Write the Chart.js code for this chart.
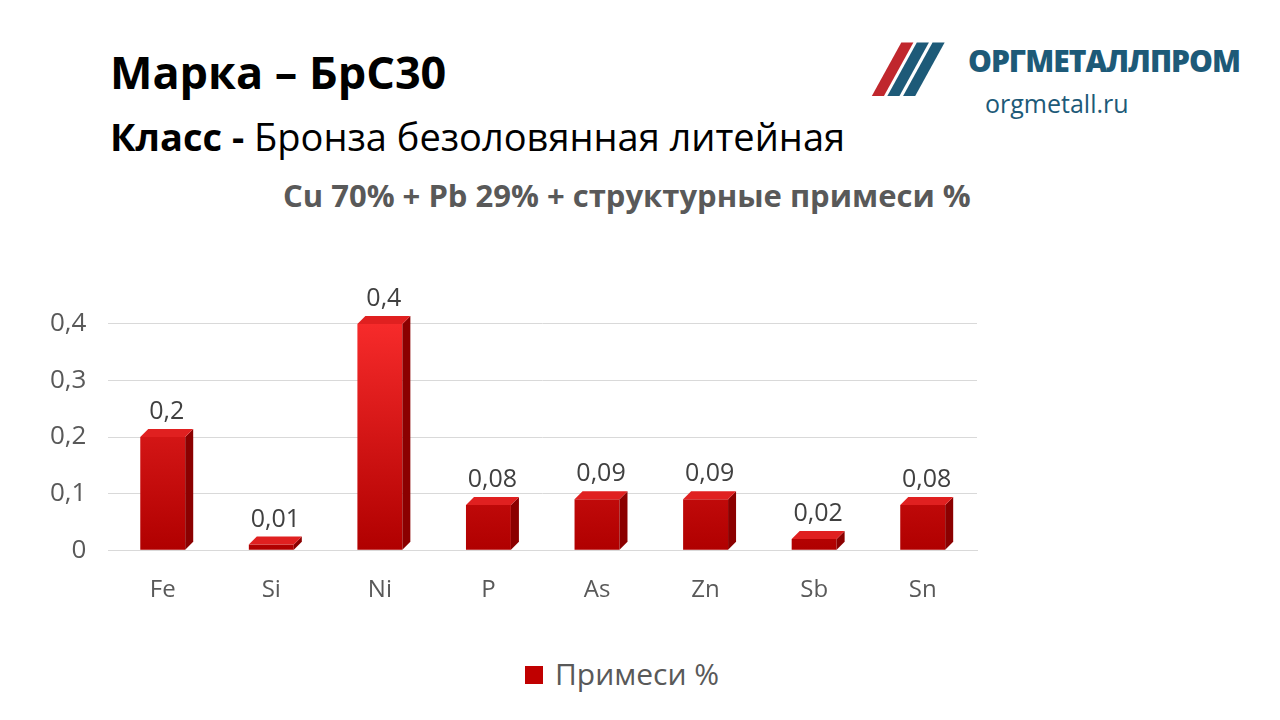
<!DOCTYPE html>
<html><head><meta charset="utf-8">
<script src="https://cdn.jsdelivr.net/npm/chart.js@4.4.4/dist/chart.umd.min.js"></script>
<style>
body{margin:0;width:1280px;height:720px;background:#fff;font-family:"Open Sans",sans-serif;position:relative;overflow:hidden}
.t{position:absolute;white-space:nowrap}
#wrap{position:absolute;left:0;top:258px;width:1030px;height:365px}
#leg{position:absolute;left:525px;top:653px;font-size:30px;color:#595959;white-space:nowrap}
#leg i{display:inline-block;width:18px;height:18px;background:#c00000;margin-right:12px;vertical-align:middle;position:relative;top:-2px}
</style></head><body>
<div class="t" style="left:110px;top:41px;font-size:45px;font-weight:bold">Марка – БрС30</div>
<div class="t" style="left:110px;top:110px;font-size:38px"><b>Класс -</b> Бронза безоловянная литейная</div>
<div class="t" style="left:283px;top:174px;font-size:31px;font-weight:bold;color:#595959">Cu 70% + Pb 29% + структурные примеси %</div>
<div class="t" style="left:875px;top:18px;font-size:72px;font-weight:900;font-style:italic;color:#c0272d;letter-spacing:-18px">/<span style="color:#1d5a78">//</span></div>
<div class="t" style="left:968px;top:40px;font-size:30px;font-weight:900;color:#1d5a78;letter-spacing:-1px">ОРГМЕТАЛЛПРОМ</div>
<div class="t" style="left:985px;top:86px;font-size:25px;color:#1d5a78">orgmetall.ru</div>
<div id="wrap"><canvas id="c"></canvas></div>
<div id="leg"></div>
<script>
const categories = ['Fe','Si','Ni','P','As','Zn','Sb','Sn'];
const values = [0.2,0.01,0.4,0.08,0.09,0.09,0.02,0.08];
const yTicks = [0,0.1,0.2,0.3,0.4];
const seriesName = 'Примеси %';
document.getElementById('leg').innerHTML = '<i></i>' + seriesName;

const bar3d = {
  id:'bar3d',
  afterDatasetsDraw(chart){
    const ctx = chart.ctx, d = 8;
    const meta = chart.getDatasetMeta(0);
    ctx.save();
    meta.data.forEach((b,i)=>{
      const l=b.x-b.width/2, r=b.x+b.width/2, t=b.y, bt=b.base;
      ctx.fillStyle='#8b0000';
      ctx.beginPath();ctx.moveTo(r,t);ctx.lineTo(r+d,t-d);ctx.lineTo(r+d,bt-d);ctx.lineTo(r,bt);ctx.fill();
      ctx.fillStyle='#e02020';
      ctx.beginPath();ctx.moveTo(l,t);ctx.lineTo(l+d,t-d);ctx.lineTo(r+d,t-d);ctx.lineTo(r,t);ctx.fill();
      ctx.fillStyle='#404040';ctx.font='25px "Open Sans"';ctx.textAlign='center';
      ctx.fillText(String(values[i]).replace('.',','), b.x+d/2, t-d-10);
    });
    ctx.restore();
  }
};

new Chart(document.getElementById('c'),{
  type:'bar',
  data:{labels:categories,datasets:[{label:seriesName,data:values,
    backgroundColor:(c)=>{const a=c.chart.chartArea;if(!a)return '#d00';const g=c.chart.ctx.createLinearGradient(0,a.top,0,a.bottom);g.addColorStop(0,'#ff3030');g.addColorStop(1,'#b00000');return g;},
    barPercentage:0.46,categoryPercentage:0.9}]},
  options:{responsive:true,maintainAspectRatio:false,animation:false,
    layout:{padding:{left:28,right:53,top:0}},
    scales:{
      y:{min:0,max:0.45,afterBuildTicks:(ax)=>{ax.ticks=yTicks.map(v=>({value:v}));},
        ticks:{color:'#595959',font:{size:26,family:'Open Sans'},padding:22,callback:v=>String(v).replace('.',',')},
        grid:{color:'#d9d9d9',drawTicks:false},border:{display:false}},
      x:{ticks:{color:'#595959',font:{size:24,family:'Open Sans'},padding:18},grid:{display:false},border:{color:'#d9d9d9'}}
    },
    plugins:{tooltip:{enabled:false},legend:{display:false}}
  },
  plugins:[bar3d]
});
</script>
</body></html>
